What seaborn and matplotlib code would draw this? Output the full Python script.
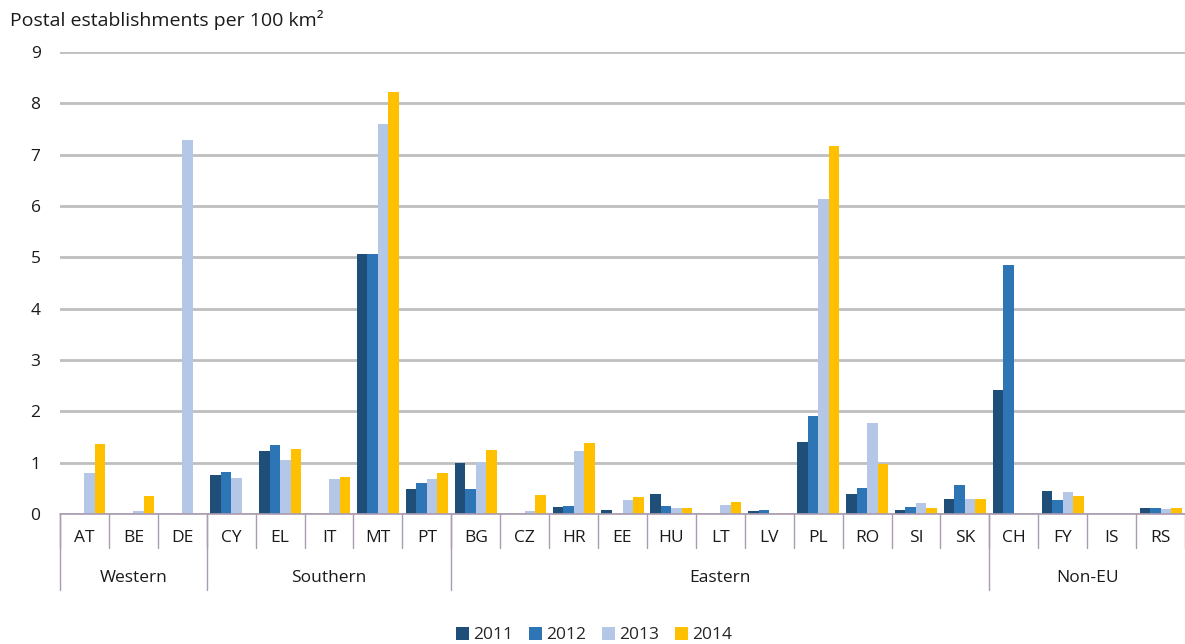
import numpy as np
import pandas as pd
import matplotlib
matplotlib.use("Agg")
import matplotlib.pyplot as plt
import matplotlib.transforms as mtransforms
import seaborn as sns

# Countries and their regional groups
countries = ["AT", "BE", "DE", "CY", "EL", "IT", "MT", "PT", "BG", "CZ", "HR", "EE",
             "HU", "LT", "LV", "PL", "RO", "SI", "SK", "CH", "FY", "IS", "RS"]
groups = ["Western", "Southern", "Eastern", "Non-EU"]
group_sizes = [3, 5, 11, 4]
years = ["2011", "2012", "2013", "2014"]

nan = np.nan
# Postal establishments per 100 km2, one list per year (NaN = not reported)
v2011 = [nan, nan, nan, 0.76, 1.23, nan, 5.06, 0.49, 0.99, nan, 0.13, 0.08,
         0.39, nan, 0.05, 1.40, 0.39, 0.08, 0.29, 2.41, 0.45, nan, 0.11]
v2012 = [nan, nan, nan, 0.82, 1.34, nan, 5.06, 0.60, 0.48, nan, 0.15, nan,
         0.16, nan, 0.07, 1.90, 0.50, 0.13, 0.57, 4.85, 0.27, nan, 0.11]
v2013 = [0.80, 0.05, 7.28, 0.70, 1.05, 0.68, 7.60, 0.68, 1.01, 0.06, 1.22, 0.27,
         0.12, 0.18, nan, 6.14, 1.77, 0.21, 0.30, nan, 0.42, nan, 0.09]
v2014 = [1.36, 0.35, nan, nan, 1.26, 0.72, 8.22, 0.80, 1.24, 0.37, 1.39, 0.33,
         0.12, 0.24, nan, 7.17, 0.98, 0.12, 0.29, nan, 0.36, nan, 0.11]

colors = ["#1F4E79", "#2E75B6", "#B4C7E7", "#FFC000"]

rows = []
for yr, vals in zip(years, [v2011, v2012, v2013, v2014]):
    for c, v in zip(countries, vals):
        rows.append({"country": c, "year": yr, "value": v})
df = pd.DataFrame(rows)

sns.set_style("white")
plt.rcParams["font.family"] = ["Open Sans", "DejaVu Sans"]
FS = 12.5
TXT = "#1A1A1A"

fig = plt.figure(figsize=(11.85, 6.44), dpi=100)
ax = fig.add_axes([60 / 1185, 1 - 514 / 644, 1125 / 1185, 462 / 644])

sns.barplot(data=df, x="country", y="value", hue="year", order=countries,
            hue_order=years, palette=colors, saturation=1, width=0.86,
            linewidth=0, errorbar=None, ax=ax)

ax.set_xlim(-0.5, len(countries) - 0.5)
ax.set_ylim(0, 9)
ax.set_yticks(range(0, 10))
ax.yaxis.grid(True, color="#BFBFBF", linewidth=2)
ax.set_axisbelow(True)
for s in ax.spines.values():
    s.set_visible(False)
ax.set_xlabel("")
ax.set_ylabel("")
ax.set_xticks([])
ax.tick_params(axis="y", length=0, labelsize=FS, pad=14, colors=TXT)

fig.text(10 / 1185, 1 - 20 / 644, "Postal establishments per 100 km²",
         fontsize=14, va="center", ha="left", color=TXT)

# Two-level category axis
trans = mtransforms.blended_transform_factory(ax.transData, ax.transAxes)
axis_col = "#A99BB0"
ax.plot([-0.5, len(countries) - 0.5], [0, 0], color=axis_col, lw=1.2,
        transform=trans, clip_on=False)
h = 462
for i, c in enumerate(countries):
    ax.text(i, -24 / h, c, transform=trans, ha="center", va="center",
            fontsize=FS, color=TXT)
for i in range(len(countries) + 1):
    ax.plot([i - 0.5, i - 0.5], [0, -34 / h], color=axis_col, lw=1,
            transform=trans, clip_on=False)
start = 0
for g, n in zip(groups, group_sizes):
    ax.text(start + (n - 1) / 2, -64 / h, g, transform=trans, ha="center",
            va="center", fontsize=FS, color=TXT)
    ax.plot([start - 0.5, start - 0.5], [0, -76 / h], color=axis_col, lw=1,
            transform=trans, clip_on=False)
    start += n

ax.legend(loc="center", bbox_to_anchor=(0.475, -0.262), ncol=4, frameon=False,
          fontsize=FS, handlelength=0.75, handleheight=0.75, handletextpad=0.25,
          columnspacing=0.9)

fig.savefig("out.png", dpi=100)
